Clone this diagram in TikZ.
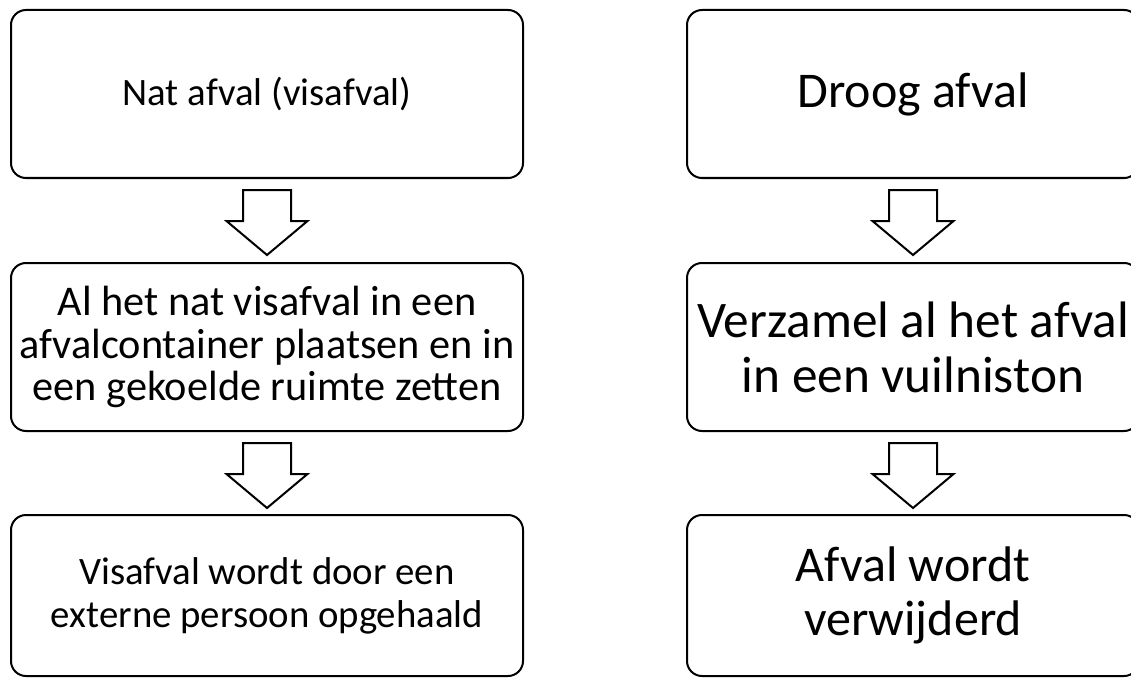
\documentclass[tikz,border=0pt]{standalone}
\usepackage{fontspec}
\setmainfont{Carlito}
\usetikzlibrary{shapes.arrows, calc}
\tikzstyle{block} = [draw=black, rounded corners=15pt, line width=2pt, align=center, inner sep=0pt]
\tikzstyle{wetbox} = [block, minimum width=512pt, font=\fontsize{38.8}{43}\selectfont]
\tikzstyle{drybox} = [block, minimum width=452pt, font=\fontsize{50}{54}\selectfont]
\tikzstyle{downarrow} = [single arrow, draw=black, line width=2pt, rotate=-90, minimum height=65pt,
                         inner xsep=0pt, inner ysep=23pt, single arrow head extend=16.5pt,
                         single arrow tip angle=100, anchor=tail]

\begin{document}
\begin{tikzpicture}[x=1pt, y=-1pt]
				\useasboundingbox (0, 0) rectangle (1131, 679);

				% wet waste
				\node (Wet) [wetbox, minimum height=168pt] at (267, 94) {Nat afval (visafval)};
				\node (WetStore) [wetbox, minimum height=168pt, font=\fontsize{42.3}{42.5}\selectfont] at (267, 347)
					{Al het nat visafval in een\\afvalcontainer plaatsen en in\\een gekoelde ruimte zetten};
				\node (WetPickup) [wetbox, minimum height=161pt] at (267, 595.5)
					{Visafval wordt door een\\externe persoon opgehaald};

				\node (WetArrowA) [downarrow] at ($(Wet.south)+(0, 10)$) {};
				\node (WetArrowB) [downarrow] at ($(WetStore.south)+(0, 10)$) {};

				% dry waste
				\node (Dry) [drybox, minimum height=168pt] at (913, 94) {Droog afval};
				\node (DryCollect) [drybox, minimum height=168pt, font=\fontsize{51.3}{55}\selectfont] at (913, 347)
					{Verzamel al het afval\\in een vuilniston};
				\node (DryRemove) [drybox, minimum height=161pt] at (913, 595.5)
					{Afval wordt\\verwijderd};

				\node (DryArrowA) [downarrow] at ($(Dry.south)+(0, 10)$) {};
				\node (DryArrowB) [downarrow] at ($(DryCollect.south)+(0, 10)$) {};
\end{tikzpicture}
\end{document}
